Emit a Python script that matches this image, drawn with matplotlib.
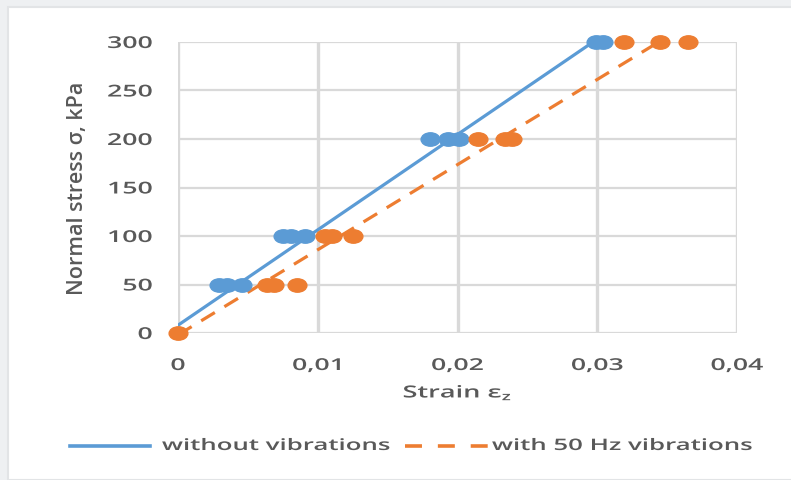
import matplotlib
matplotlib.use("Agg")
import matplotlib.pyplot as plt
from matplotlib.patches import Rectangle
from matplotlib.lines import Line2D
from matplotlib.path import Path
from matplotlib.patheffects import AbstractPathEffect
from matplotlib.transforms import Affine2D
from matplotlib.ticker import FuncFormatter

no_vib_x = [0.0029, 0.0035, 0.0046, 0.0075, 0.0081, 0.0091,
            0.0180, 0.0193, 0.0201, 0.0299, 0.0304]
no_vib_y = [50, 50, 50, 100, 100, 100, 200, 200, 200, 300, 300]

vib_x = [0.0, 0.0064, 0.0069, 0.0085, 0.0105, 0.0110, 0.0125,
         0.0215, 0.0234, 0.0239, 0.0319, 0.0345, 0.0365]
vib_y = [0, 50, 50, 50, 100, 100, 100, 200, 200, 200, 300, 300, 300]

# trend lines (end points)
no_vib_fit_x = [0.0, 0.0297]
no_vib_fit_y = [8, 300]
vib_fit_x = [0.0, 0.0344]
vib_fit_y = [-2, 300]

labels = ["without vibrations", "with 50 Hz vibrations"]

blue = "#5B9BD5"
orange = "#ED7D31"
txt = "#595959"
SX = 1.63  # the source picture is stretched sideways


class Stretch(AbstractPathEffect):
    """widen text horizontally around an anchor"""
    def __init__(self, sx, anchor="center"):
        super().__init__()
        self.sx = sx
        self.anchor = anchor

    def draw_path(self, renderer, gc, tpath, affine, rgbFace=None):
        ext = tpath.get_extents(affine)
        cx = {"left": ext.x0, "right": ext.x1}.get(self.anchor, (ext.x0 + ext.x1) / 2)
        affine = affine + Affine2D().translate(-cx, 0).scale(self.sx, 1).translate(cx, 0)
        renderer.draw_path(gc, tpath, affine, rgbFace)


plt.rcParams['font.family'] = ['Open Sans', 'DejaVu Sans']
plt.rcParams['font.weight'] = 'semibold'
plt.rcParams['axes.labelweight'] = 'semibold'

fig = plt.figure(figsize=(7.91, 4.81), dpi=100)
fig.patch.set_facecolor("#eef0f2")
fig.patches.append(Rectangle((8 / 791, 0), 1, 1 - 8 / 481, transform=fig.transFigure,
                             facecolor="white", edgecolor="#e2e4e6", lw=1.5, zorder=-10))

ax = fig.add_axes([178 / 791, 1 - 334 / 481, (737 - 178) / 791, (334 - 43) / 481])
ax.set_facecolor("none")

oval = Path.unit_circle().transformed(Affine2D().scale(1.4, 1))

l1, = ax.plot(no_vib_fit_x, no_vib_fit_y, color=blue, lw=2.3, label=labels[0], zorder=3)
l2, = ax.plot(vib_fit_x, vib_fit_y, color=orange, lw=2.3, ls=(0, (5, 3.5)),
              label=labels[1], zorder=3)
ax.plot(no_vib_x, no_vib_y, ls="none", marker=oval, color=blue, ms=13.5, zorder=4, clip_on=False)
ax.plot(vib_x, vib_y, ls="none", marker=oval, color=orange, ms=13.5, zorder=4, clip_on=False)

ax.set_xlim(0, 0.04)
ax.set_ylim(0, 300)
ax.set_xticks([0, 0.01, 0.02, 0.03, 0.04])
ax.set_yticks(range(0, 301, 50))
ax.xaxis.set_major_formatter(FuncFormatter(lambda v, p: "0" if v == 0 else f"{v:.2f}".replace(".", ",")))
ax.xaxis.grid(True, color="#d9d9d9", lw=2.4)
ax.yaxis.grid(True, color="#d9d9d9", lw=1.6)
ax.set_axisbelow(True)
for s in ax.spines.values():
    s.set_visible(False)
ax.tick_params(length=0, labelsize=11.8, labelcolor=txt)
ax.tick_params(axis="y", pad=18.5)
ax.tick_params(axis="x", pad=18)
for t in ax.yaxis.get_major_ticks():
    t.label1.set_path_effects([Stretch(SX, "right")])
for t in ax.xaxis.get_major_ticks():
    t.label1.set_path_effects([Stretch(SX)])

ax.set_xlabel("Strain ε$_\\mathregular{z}$", fontsize=12, color=txt, va="center",
              path_effects=[Stretch(SX)])
ax.xaxis.set_label_coords(0.5, (334 - 394) / 291)
ax.set_ylabel("Normal stress σ, kPa", fontsize=15.5, color=txt, va="center")
ax.yaxis.set_label_coords((78 - 178) / 559, (334 - 188) / 291)

# legend, laid out by hand because the text is widened
ly = 1 - 447 / 481
for line, x0, x1, tx in [(l1, 70, 150, 162), (l2, 405, 488, 492)]:
    fig.add_artist(Line2D([x0 / 791, x1 / 791], [ly, ly], transform=fig.transFigure,
                          color=line.get_color(), lw=2.6,
                          ls=(0, (4.7, 4.4)) if line is l2 else "-"))
    fig.text(tx / 791, ly, line.get_label(), fontsize=11.4, color=txt, ha="left", va="center",
             path_effects=[Stretch(SX, "left")])

fig.savefig("out.png", dpi=100, facecolor=fig.get_facecolor())
